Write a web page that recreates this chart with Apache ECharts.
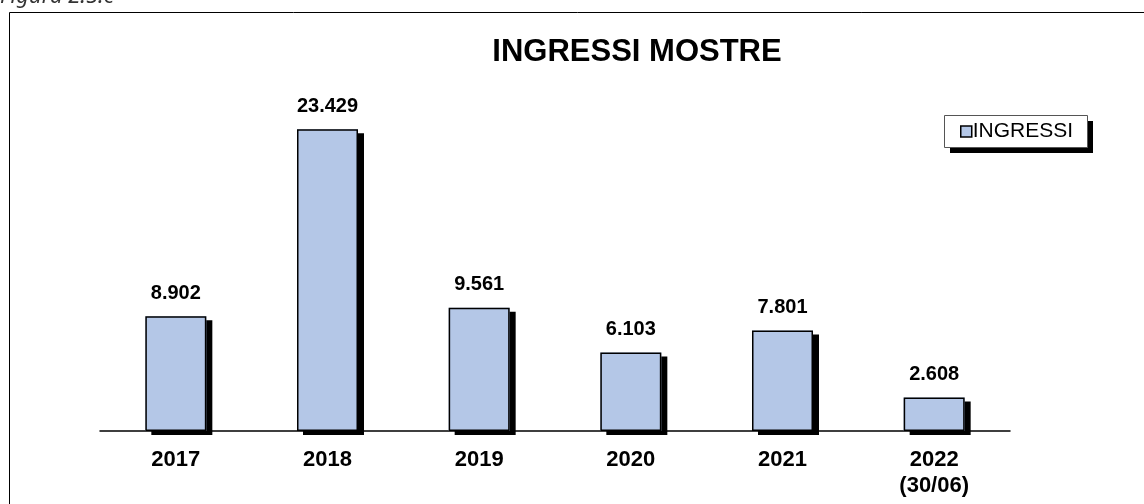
<!DOCTYPE html>
<html>
<head>
    <meta charset="UTF-8">
    <title>Ingressi mostre</title>
    <style>
        html, body { margin: 0; padding: 0; background: #fff; }
        #main { width: 1144px; height: 504px; }
    </style>
    <script src="https://cdn.jsdelivr.net/npm/echarts@6/dist/echarts.min.js"></script>
</head>
<body>
<div id="main"></div>
<script>
    // dati
    var anni = ['2017', '2018', '2019', '2020', '2021', '2022\n(30/06)'];
    var ingressi = [8902, 23429, 9561, 6103, 7801, 2608];

    // formato italiano: 8.902
    function fmt(v) {
        return String(v).replace(/\B(?=(\d{3})+(?!\d))/g, '.');
    }

    var chart = echarts.init(document.getElementById('main'));
    var option = {
        backgroundColor: '#fff',
        animation: false,
        title: {
            text: 'INGRESSI MOSTRE',
            left: 632,
            textAlign: 'center',
            top: 32,
            textStyle: {
                fontFamily: 'Liberation Sans',
                fontSize: 31,
                fontWeight: 'bold',
                color: '#000'
            }
        },
        legend: {
            left: 960,
            top: 121,
            padding: 0,
            itemWidth: 11,
            itemHeight: 11,
            icon: 'rect',
            itemStyle: {
                color: '#b4c7e7',
                borderColor: '#000',
                borderWidth: 1.5,
                shadowBlur: 0,
                shadowOffsetX: 0,
                shadowOffsetY: 0,
                shadowColor: 'transparent'
            },
            textStyle: {
                fontFamily: 'Liberation Sans',
                fontSize: 21,
                color: '#000',
                padding: [0, 0, 0, -4]
            },
            data: ['INGRESSI'],
            z: 10
        },
        grid: {
            left: 100,
            right: 134,
            top: 109,
            bottom: 73
        },
        xAxis: {
            type: 'category',
            data: anni,
            axisLine: { lineStyle: { color: '#000', width: 1.5 } },
            axisTick: { show: false },
            axisLabel: {
                margin: 16,
                fontFamily: 'Liberation Sans',
                fontSize: 22,
                fontWeight: 'bold',
                color: '#000',
                lineHeight: 26
            }
        },
        yAxis: {
            type: 'value',
            min: 0,
            max: 25000,
            show: false,
            splitLine: { show: false }
        },
        series: [{
            name: 'INGRESSI',
            type: 'bar',
            data: ingressi,
            barWidth: 61,
            z: 2,
            itemStyle: {
                color: '#b4c7e7',
                shadowColor: '#000',
                shadowBlur: 0,
                shadowOffsetX: 6,
                shadowOffsetY: 4
            },
            label: {
                show: true,
                position: 'top',
                distance: 13,
                fontFamily: 'Liberation Sans',
                fontSize: 20,
                fontWeight: 'bold',
                color: '#000',
                formatter: function (p) { return fmt(p.value); }
            }
        }, {
            name: 'bordo',
            type: 'bar',
            data: ingressi,
            barWidth: 61,
            barGap: '-100%',
            silent: true,
            z: 3,
            itemStyle: {
                color: 'transparent',
                borderColor: '#000',
                borderWidth: 1.5
            }
        }],
        graphic: [
            {
                type: 'rect',
                shape: { x: 9.5, y: 12.5, width: 1300, height: 600 },
                style: { fill: 'none', stroke: '#000', lineWidth: 1 },
                z: -1
            },
            {
                type: 'rect',
                shape: { x: 950, y: 121, width: 143, height: 32 },
                style: { fill: '#000' },
                z: 1
            },
            {
                type: 'rect',
                shape: { x: 944.5, y: 115.5, width: 143, height: 32 },
                style: { fill: '#fff', stroke: '#555', lineWidth: 1 },
                z: 1
            },
            {
                type: 'text',
                left: 0,
                top: -14,
                style: {
                    text: 'Figura 2.5.c',
                    font: 'italic 22px "Noto Sans"',
                    fill: '#333'
                }
            }
        ]
    };
    chart.setOption(option);
</script>
</body>
</html>
